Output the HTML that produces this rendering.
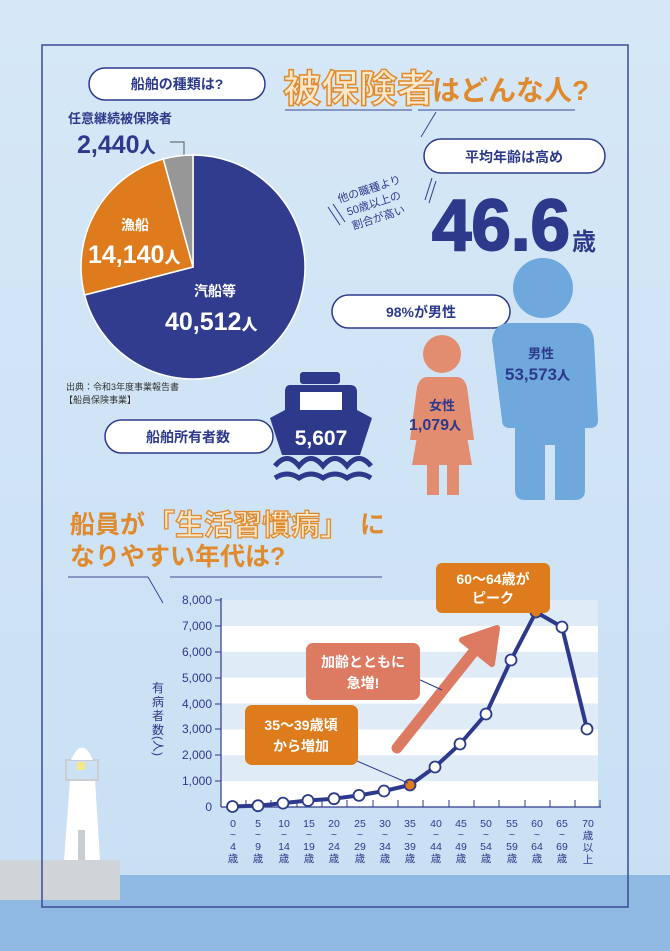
<!DOCTYPE html>
<html><head><meta charset="utf-8"><style>
html,body{margin:0;padding:0;width:670px;height:951px;overflow:hidden;background:#d3e6f6;}
svg{display:block}
text{font-family:"Liberation Sans","Noto Sans CJK JP",sans-serif;}
</style></head><body>
<svg width="670" height="951" viewBox="0 0 670 951" xmlns="http://www.w3.org/2000/svg">
<defs>
<linearGradient id="bg" x1="0" y1="0" x2="0" y2="1"><stop offset="0" stop-color="#d6e8f7"/><stop offset="1" stop-color="#c8dff3"/></linearGradient>
</defs>
<rect width="670" height="951" fill="url(#bg)"/>
<rect x="0" y="875" width="670" height="76" fill="#8fb9e2"/>
<rect x="0" y="860" width="120" height="40" fill="#cfd4d9"/>
<!-- frame -->
<rect x="42" y="45" width="586" height="862" fill="none" stroke="#3a4a94" stroke-width="1.5"/>

<!-- pill 1 -->
<rect x="89" y="68" width="176" height="32" rx="16" fill="#fff" stroke="#2d3a8c" stroke-width="1.5"/>
<text x="177" y="89" font-size="14" font-weight="700" fill="#2d3a8c" text-anchor="middle">船舶の種類は?</text>
<!-- title -->
<text x="283" y="102" font-size="38" font-weight="700" fill="#fbe7c9" stroke="#e08a2e" stroke-width="1.5">被保険者</text>
<text x="432" y="100" font-size="28" font-weight="700" fill="#e08a2e">はどんな人?</text>
<line x1="285" y1="110" x2="412" y2="110" stroke="#3a4a94" stroke-width="1"/>
<line x1="418" y1="110" x2="575" y2="110" stroke="#3a4a94" stroke-width="1"/>
<line x1="436" y1="112" x2="421" y2="137" stroke="#3a4a94" stroke-width="1"/>

<!-- pie -->
<text x="68" y="123" font-size="13" font-weight="700" fill="#2d3a8c">任意継続被保険者</text>
<text x="77" y="153" font-size="25" font-weight="900" fill="#2d3a8c">2,440<tspan font-size="16">人</tspan></text>
<polyline points="170,142 184,142 184,168" fill="none" stroke="#555" stroke-width="1"/>
<g transform="translate(2,8)">
<path d="M191,259 L191,147 A112,112 0 1 1 82.6,287 Z" fill="#323c8e" stroke="#fff" stroke-width="1.5"/>
<path d="M191,259 L82.6,287 A112,112 0 0 1 161.3,151 Z" fill="#de7b1c" stroke="#fff" stroke-width="1.5"/>
<path d="M191,259 L161.3,151 A112,112 0 0 1 191,147 Z" fill="#979797" stroke="#fff" stroke-width="1.5"/>
</g>
<text x="135" y="230" font-size="14" font-weight="700" fill="#fff" text-anchor="middle">漁船</text>
<text x="88" y="263" font-size="25" font-weight="900" fill="#fff">14,140<tspan font-size="16">人</tspan></text>
<text x="215" y="296" font-size="14" font-weight="700" fill="#fff" text-anchor="middle">汽船等</text>
<text x="165" y="330" font-size="25" font-weight="900" fill="#fff">40,512<tspan font-size="16">人</tspan></text>
<text x="66" y="390" font-size="9" fill="#333">出典：令和3年度事業報告書</text>
<text x="64" y="403" font-size="9" fill="#333">【船員保険事業】</text>

<!-- avg age -->
<rect x="424" y="139" width="181" height="34" rx="17" fill="#fff" stroke="#2d3a8c" stroke-width="1.5"/>
<text x="514" y="162" font-size="14" font-weight="700" fill="#2d3a8c" text-anchor="middle">平均年齢は高め</text>
<g transform="translate(375,207) rotate(-18)" fill="#2d3a8c" font-size="11" text-anchor="middle">
<text x="0" y="-15">他の職種より</text><text x="0" y="0">50歳以上の</text><text x="0" y="15">割合が高い</text></g>
<line x1="328" y1="207" x2="340" y2="225" stroke="#2d3a8c"/><line x1="333" y1="204" x2="345" y2="222" stroke="#2d3a8c"/>
<line x1="432" y1="178" x2="425" y2="200" stroke="#2d3a8c"/><line x1="436" y1="181" x2="429" y2="203" stroke="#2d3a8c"/>
<text x="432" y="250" font-size="72" font-weight="900" fill="#2d3a8c" font-family="Liberation Sans" textLength="138" lengthAdjust="spacingAndGlyphs" stroke="#2d3a8c" stroke-width="2">46.6</text>
<text x="572" y="250" font-size="24" font-weight="700" fill="#2d3a8c">歳</text>

<!-- gender -->
<rect x="332" y="295" width="178" height="33" rx="16.5" fill="#fff" stroke="#2d3a8c" stroke-width="1.5"/>
<text x="421" y="317" font-size="14" font-weight="700" fill="#2d3a8c" text-anchor="middle">98%が男性</text>
<circle cx="543" cy="288" r="30" fill="#6fa8dd"/>
<path d="M510,323 L576,323 Q592,323 594,340 L598,420 Q598,428 590,428 L585,428 L585,490 Q585,500 575,500 L555,500 L555,445 L545,445 L545,500 L525,500 Q515,500 515,490 L515,428 L510,428 Q502,428 502,420 L492,340 Q494,323 510,323 Z" fill="#6fa8dd"/>
<text x="541" y="358" font-size="13" font-weight="700" fill="#2d3a8c" text-anchor="middle">男性</text>
<text x="505" y="380" font-size="17" font-weight="900" fill="#2d3a8c">53,573<tspan font-size="13">人</tspan></text>
<circle cx="442" cy="354" r="19" fill="#e28c70"/>
<path d="M427,377 L457,377 Q464,377 467,387 L474,440 L466,440 L464,420 L472,465 L459,465 L459,495 L447,495 L447,465 L439,465 L439,495 L427,495 L427,465 L412,465 L420,420 L418,440 L410,440 L417,387 Q420,377 427,377 Z" fill="#e28c70"/>
<text x="442" y="410" font-size="13" font-weight="700" fill="#2d3a8c" text-anchor="middle">女性</text>
<text x="409" y="430" font-size="16" font-weight="900" fill="#2d3a8c">1,079<tspan font-size="12">人</tspan></text>

<!-- ship -->
<rect x="105" y="420" width="168" height="33" rx="16.5" fill="#fff" stroke="#2d3a8c" stroke-width="1.5"/>
<text x="188" y="442" font-size="14" font-weight="700" fill="#2d3a8c" text-anchor="middle">船舶所有者数</text>
<rect x="300" y="372" width="40" height="12" rx="3" fill="#2d3a8c"/>
<path d="M290,385 L350,385 Q357,385 357,392 L357,410 L372,418 L360,455 L282,455 L270,418 L285,410 L285,392 Q285,385 290,385 Z" fill="#2d3a8c"/>
<rect x="300" y="392" width="42" height="18" fill="#fff"/>
<text x="321" y="445" font-size="21" font-weight="900" fill="#fff" text-anchor="middle">5,607</text>
<path d="M275,466 q12,-15 24,0 q12,-15 24,0 q12,-15 24,0 q12,-15 24,0" fill="none" stroke="#2d3a8c" stroke-width="5"/>
<path d="M275,478 q12,-8 24,0 q12,-8 24,0 q12,-8 24,0 q12,-8 24,0" fill="none" stroke="#2d3a8c" stroke-width="5"/>

<!-- lower title -->
<text x="70" y="533" font-size="25" font-weight="700" fill="#e08a2e">船員が</text>
<text x="146" y="535" font-size="29" font-weight="700" fill="#fbe7c9" stroke="#e08a2e" stroke-width="1.3">「生活習慣病」</text>
<text x="360" y="533" font-size="25" font-weight="700" fill="#e08a2e">に</text>
<text x="70" y="565" font-size="25" font-weight="700" fill="#e08a2e">なりやすい年代は?</text>
<line x1="68" y1="577" x2="148" y2="577" stroke="#3a4a94"/>
<line x1="170" y1="577" x2="382" y2="577" stroke="#3a4a94"/>
<line x1="148" y1="577" x2="163" y2="603" stroke="#3a4a94"/>

<!-- lighthouse -->
<path d="M70,780 L95,780 L100,860 L64,860 Z" fill="#fff"/>
<rect x="78" y="830" width="7" height="30" fill="#c9cdd2"/>
<rect x="66" y="760" width="32" height="20" fill="none" stroke="#c9cdd2" stroke-width="2"/>
<rect x="77" y="762" width="8" height="8" fill="#f6e88a"/>
<path d="M71,760 Q82,735 93,760 Z" fill="#fff"/>

<!-- chart -->
<g>
<rect x="221" y="600" width="377" height="207" fill="#ffffff"/>
<rect x="221" y="600" width="377" height="25.9" fill="#e0ebf8"/>
<rect x="221" y="651.8" width="377" height="25.9" fill="#e0ebf8"/>
<rect x="221" y="703.5" width="377" height="25.9" fill="#e0ebf8"/>
<rect x="221" y="755.3" width="377" height="25.9" fill="#e0ebf8"/>
<line x1="221" y1="598" x2="221" y2="807" stroke="#2d3a8c" stroke-width="1.2"/>
<line x1="221" y1="807" x2="601" y2="807" stroke="#2d3a8c" stroke-width="1.2"/>
<g stroke="#2d3a8c" stroke-width="1">
<line x1="215" y1="600" x2="221" y2="600"/><line x1="215" y1="626" x2="221" y2="626"/><line x1="215" y1="652" x2="221" y2="652"/><line x1="215" y1="678" x2="221" y2="678"/><line x1="215" y1="704" x2="221" y2="704"/><line x1="215" y1="729" x2="221" y2="729"/><line x1="215" y1="755" x2="221" y2="755"/><line x1="215" y1="781" x2="221" y2="781"/>
</g>
<g font-size="12" fill="#2d3a8c" text-anchor="end">
<text x="212" y="604">8,000</text><text x="212" y="630">7,000</text><text x="212" y="656">6,000</text><text x="212" y="682">5,000</text><text x="212" y="708">4,000</text><text x="212" y="733">3,000</text><text x="212" y="759">2,000</text><text x="212" y="785">1,000</text><text x="212" y="811">0</text>
</g>
<g font-size="12" fill="#2d3a8c" text-anchor="middle"><text x="158" y="692">有</text><text x="158" y="706">病</text><text x="158" y="720">者</text><text x="158" y="734">数</text><text x="158" y="750" transform="rotate(90,158,746)">(人)</text></g>
<g stroke="#2d3a8c" stroke-width="1">
<line x1="246" y1="800" x2="246" y2="807"/><line x1="271" y1="800" x2="271" y2="807"/><line x1="297" y1="800" x2="297" y2="807"/><line x1="322" y1="800" x2="322" y2="807"/><line x1="347" y1="800" x2="347" y2="807"/><line x1="373" y1="800" x2="373" y2="807"/><line x1="398" y1="800" x2="398" y2="807"/><line x1="423" y1="800" x2="423" y2="807"/><line x1="449" y1="800" x2="449" y2="807"/><line x1="474" y1="800" x2="474" y2="807"/><line x1="499" y1="800" x2="499" y2="807"/><line x1="525" y1="800" x2="525" y2="807"/><line x1="550" y1="800" x2="550" y2="807"/><line x1="575" y1="800" x2="575" y2="807"/><line x1="600" y1="800" x2="600" y2="807"/>
</g>
<g font-size="10.5" fill="#2d3a8c" text-anchor="middle">
<text x="233" y="827">0</text><text x="233" y="838">~</text><text x="233" y="850">4</text><text x="233" y="862">歳</text>
<text x="258" y="827">5</text><text x="258" y="838">~</text><text x="258" y="850">9</text><text x="258" y="862">歳</text>
<text x="284" y="827">10</text><text x="284" y="838">~</text><text x="284" y="850">14</text><text x="284" y="862">歳</text>
<text x="309" y="827">15</text><text x="309" y="838">~</text><text x="309" y="850">19</text><text x="309" y="862">歳</text>
<text x="334" y="827">20</text><text x="334" y="838">~</text><text x="334" y="850">24</text><text x="334" y="862">歳</text>
<text x="360" y="827">25</text><text x="360" y="838">~</text><text x="360" y="850">29</text><text x="360" y="862">歳</text>
<text x="385" y="827">30</text><text x="385" y="838">~</text><text x="385" y="850">34</text><text x="385" y="862">歳</text>
<text x="410" y="827">35</text><text x="410" y="838">~</text><text x="410" y="850">39</text><text x="410" y="862">歳</text>
<text x="436" y="827">40</text><text x="436" y="838">~</text><text x="436" y="850">44</text><text x="436" y="862">歳</text>
<text x="461" y="827">45</text><text x="461" y="838">~</text><text x="461" y="850">49</text><text x="461" y="862">歳</text>
<text x="486" y="827">50</text><text x="486" y="838">~</text><text x="486" y="850">54</text><text x="486" y="862">歳</text>
<text x="512" y="827">55</text><text x="512" y="838">~</text><text x="512" y="850">59</text><text x="512" y="862">歳</text>
<text x="537" y="827">60</text><text x="537" y="838">~</text><text x="537" y="850">64</text><text x="537" y="862">歳</text>
<text x="562" y="827">65</text><text x="562" y="838">~</text><text x="562" y="850">69</text><text x="562" y="862">歳</text>
<text x="588" y="827">70</text><text x="588" y="839">歳</text><text x="588" y="851">以</text><text x="588" y="863">上</text>
</g>
<!-- arrow -->
<line x1="397" y1="748" x2="475" y2="650" stroke="#dc7a62" stroke-width="11" stroke-linecap="round"/>
<path d="M462,640 L497,628 L492,664 Z" fill="#dc7a62" stroke="#dc7a62" stroke-width="6" stroke-linejoin="round"/>
<polyline points="232.5,806.5 258,805.7 283,803.1 308,800.5 334,798.7 359,795.4 384,791 410,785 435,767 460,744 486,714 511,660 536,612 562,627 587,729" fill="none" stroke="#2d3a8c" stroke-width="4" stroke-linejoin="round"/>
<g fill="#fff" stroke="#2d3a8c" stroke-width="1.8">
<circle cx="232.5" cy="806.5" r="5.5"/><circle cx="258" cy="805.7" r="5.5"/><circle cx="283" cy="803.1" r="5.5"/><circle cx="308" cy="800.5" r="5.5"/><circle cx="334" cy="798.7" r="5.5"/><circle cx="359" cy="795.4" r="5.5"/><circle cx="384" cy="791" r="5.5"/><circle cx="435" cy="767" r="5.5"/><circle cx="460" cy="744" r="5.5"/><circle cx="486" cy="714" r="5.5"/><circle cx="511" cy="660" r="5.5"/><circle cx="562" cy="627" r="5.5"/><circle cx="587" cy="729" r="5.5"/>
<circle cx="410" cy="785" r="5.5" fill="#de7b1c"/><circle cx="536" cy="612" r="5.5" fill="#de7b1c"/>
</g>
<!-- callouts -->
<line x1="520" y1="595" x2="536" y2="610" stroke="#2d3a8c"/>
<rect x="436" y="563" width="114" height="50" rx="6" fill="#de7b1c"/>
<text x="493" y="584" font-size="14" font-weight="700" fill="#fff" text-anchor="middle">60～64歳が</text>
<text x="493" y="603" font-size="14" font-weight="700" fill="#fff" text-anchor="middle">ピーク</text>
<line x1="405" y1="673" x2="442" y2="690" stroke="#2d3a8c"/>
<rect x="306" y="643" width="114" height="57" rx="7" fill="#dc7a62"/>
<text x="363" y="667" font-size="14" font-weight="700" fill="#fff" text-anchor="middle">加齢とともに</text>
<text x="363" y="688" font-size="14" font-weight="700" fill="#fff" text-anchor="middle">急増!</text>
<line x1="350" y1="758" x2="408" y2="783" stroke="#2d3a8c"/>
<rect x="245" y="705" width="113" height="60" rx="7" fill="#de7b1c"/>
<text x="301" y="730" font-size="14" font-weight="700" fill="#fff" text-anchor="middle">35～39歳頃</text>
<text x="301" y="751" font-size="14" font-weight="700" fill="#fff" text-anchor="middle">から増加</text>
</g>
</svg>
</body></html>
